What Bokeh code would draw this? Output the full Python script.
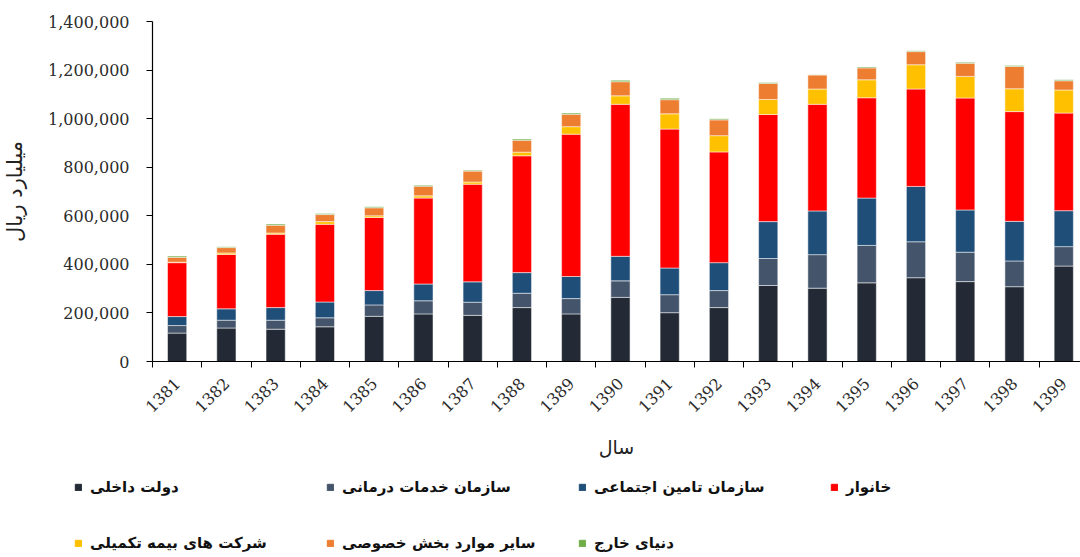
import math
from bokeh.plotting import figure
from bokeh.models import (ColumnDataSource, FixedTicker, NumeralTickFormatter,
                          Range1d, Legend, LegendItem)
from bokeh.embed import file_html
from bokeh.resources import INLINE

# ---- data (billion rials) ----
years = ["1381", "1382", "1383", "1384", "1385", "1386", "1387", "1388", "1389", "1390",
         "1391", "1392", "1393", "1394", "1395", "1396", "1397", "1398", "1399"]
dolat_dakheli = [117000, 138000, 133000, 143000, 186000, 196000, 190000, 222000, 196000, 264000,
                 201000, 222000, 313000, 302000, 324000, 345000, 329000, 308000, 393000]
khadamat_darmani = [31000, 32000, 37000, 37000, 47000, 54000, 54000, 59000, 63000, 68000,
                    74000, 70000, 111000, 138000, 154000, 148000, 121000, 106000, 80000]
tamin_ejtemaei = [37000, 47000, 52000, 65000, 59000, 69000, 84000, 85000, 91000, 101000,
                  110000, 115000, 152000, 180000, 195000, 228000, 174000, 163000, 148000]
khanevar = [222000, 224000, 302000, 320000, 301000, 354000, 402000, 481000, 586000, 626000,
            572000, 456000, 441000, 439000, 413000, 401000, 461000, 452000, 402000]
bimeh_takmili = [2000, 6000, 5000, 11000, 7000, 9000, 9000, 15000, 31000, 35000,
                 63000, 67000, 62000, 63000, 74000, 100000, 89000, 94000, 95000]
sayer_khosusi = [20000, 22000, 32000, 29000, 33000, 40000, 45000, 49000, 51000, 58000,
                 58000, 65000, 66000, 58000, 49000, 54000, 54000, 92000, 38000]
donyaye_kharej = [5000, 4000, 5000, 4000, 4000, 4000, 4000, 5000, 5000, 6000,
                  6000, 5000, 4000, 1000, 4000, 4000, 4000, 4000, 4000]

series_names = ["dolat", "khadamat", "tamin", "khanevar", "bimeh", "sayer", "kharej"]
series_labels = ["دولت داخلی", "سازمان خدمات درمانی", "سازمان تامین اجتماعی", "خانوار",
                 "شرکت های بیمه تکمیلی", "سایر موارد بخش خصوصی", "دنیای خارج"]
colors = ["#232A35", "#44546A", "#1F4E79", "#FF0000", "#FFC000", "#ED7D31", "#70AD47"]
y_ticks = [0, 200000, 400000, 600000, 800000, 1000000, 1200000, 1400000]

xs = list(range(len(years)))
source = ColumnDataSource(dict(
    x=xs, dolat=dolat_dakheli, khadamat=khadamat_darmani, tamin=tamin_ejtemaei,
    khanevar=khanevar, bimeh=bimeh_takmili, sayer=sayer_khosusi, kharej=donyaye_kharej))

serif = "DejaVu Serif"
sans = "DejaVu Sans"

# ---------------- chart ----------------
p = figure(width=1080, height=470, output_backend="svg", toolbar_location=None,
           x_range=Range1d(-0.5, 18.34), y_range=Range1d(0, 1400000),
           min_border_left=151, min_border_right=0, min_border_top=21, min_border_bottom=109)
p.outline_line_color = None
p.xgrid.visible = False
p.ygrid.visible = False

renderers = p.vbar_stack(series_names, x="x", width=0.39, source=source, color=colors,
                         line_color="white", line_width=0.5)

xa = p.xaxis[0]
xa.ticker = FixedTicker(ticks=xs, minor_ticks=[i - 0.5 for i in range(len(years) + 1)])
xa.major_label_overrides = {i: y for i, y in enumerate(years)}
xa.major_tick_out = 0
xa.major_tick_in = 0
xa.minor_tick_out = 6
xa.minor_tick_in = 0
xa.minor_tick_line_color = "black"
xa.axis_line_color = "black"
xa.axis_line_width = 1.2
xa.major_label_orientation = math.pi / 4
xa.major_label_standoff = 13
xa.major_label_text_font = serif
xa.major_label_text_font_size = "16px"
xa.major_label_text_color = "#2b2b2b"
xa.axis_label = "سال"
xa.axis_label_text_font = sans
xa.axis_label_text_font_style = "normal"
xa.axis_label_text_font_size = "19px"
xa.axis_label_text_color = "#222222"
xa.axis_label_standoff = 15

ya = p.yaxis[0]
ya.ticker = FixedTicker(ticks=y_ticks)
ya.formatter = NumeralTickFormatter(format="0,0")
ya.major_tick_out = 6
ya.major_tick_in = 0
ya.minor_tick_out = 0
ya.minor_tick_in = 0
ya.major_tick_line_color = "black"
ya.axis_line_color = "black"
ya.axis_line_width = 1.2
ya.major_label_standoff = 17
ya.major_label_text_font = serif
ya.major_label_text_font_size = "16px"
ya.major_label_text_color = "#2b2b2b"
ya.axis_label = "میلیارد ریال"
ya.axis_label_text_font = sans
ya.axis_label_text_font_style = "normal"
ya.axis_label_text_font_size = "21px"
ya.axis_label_text_color = "#222222"
ya.axis_label_standoff = 18

# ---------------- legend strip (separate root, not frame-aligned) ----------------
p2 = figure(width=1080, height=87, output_backend="svg", toolbar_location=None,
            x_range=Range1d(0, 1), y_range=Range1d(0, 1),
            x_axis_type=None, y_axis_type=None,
            min_border_left=0, min_border_right=0, min_border_top=0, min_border_bottom=0)
p2.outline_line_color = None
p2.xgrid.visible = False
p2.ygrid.visible = False

nan = float("nan")
swatches = [p2.vbar(x=[nan], top=[nan], width=0.1, color=c) for c in colors]


def make_legend(idx, loc):
    items = [LegendItem(label=series_labels[i], renderers=[swatches[i]]) for i in idx]
    return Legend(items=items, location=loc, orientation="horizontal",
                  glyph_width=8, glyph_height=8, label_standoff=8, label_width=226,
                  spacing=10, padding=0, margin=0, border_line_color=None,
                  background_fill_alpha=0, label_text_font=sans, label_text_font_style="bold",
                  label_text_font_size="15px", label_text_color="#111111")


p2.add_layout(make_legend([0, 1, 2, 3], (74, 61)))
p2.add_layout(make_legend([4, 5, 6], (74, 5)))

open("out.html", "w").write(file_html([p, p2], INLINE))
